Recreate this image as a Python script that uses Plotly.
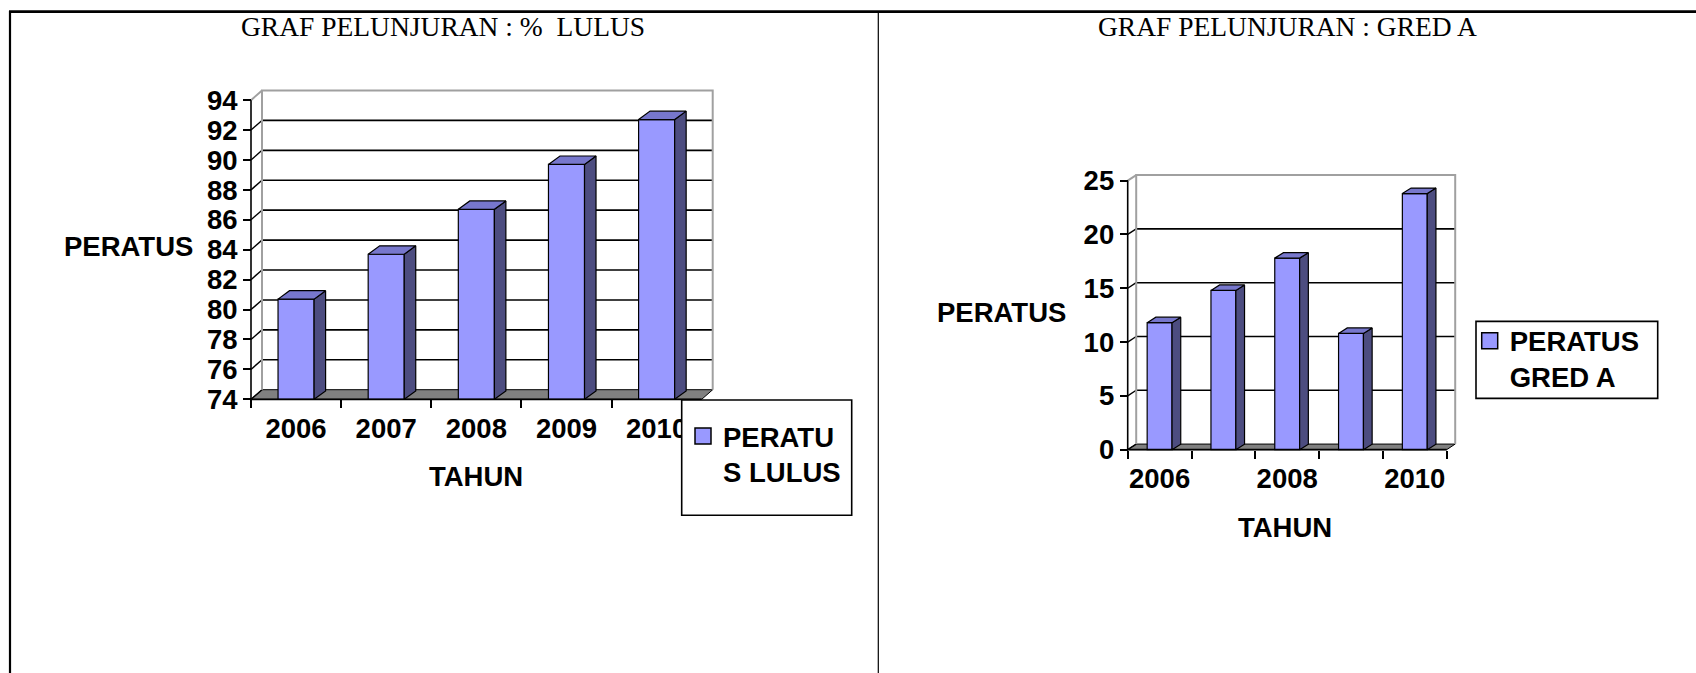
import plotly.graph_objects as go

W, H = 1696, 673      # design coordinates (= reference picture)
H_FIG = 685           # figure height; the photographed page is ~685px tall and scaled to 673

# ---------------- data ----------------
years = [2006, 2007, 2008, 2009, 2010]
lulus_pct = [80.7, 83.7, 86.7, 89.7, 92.7]
gred_a_pct = [11.8, 14.8, 17.8, 10.8, 23.8]

lulus_yticks = [74, 76, 78, 80, 82, 84, 86, 88, 90, 92, 94]
gred_yticks = [0, 5, 10, 15, 20, 25]
lulus_xlabels = ["2006", "2007", "2008", "2009", "2010"]
gred_xlabels = ["2006", "", "2008", "", "2010"]

title1 = "GRAF PELUNJURAN : %\u00a0 LULUS"
title2 = "GRAF PELUNJURAN : GRED A"
series1 = "PERATU<br>S LULUS"
series2 = "PERATUS<br>GRED A"
ytitle = "PERATUS"
xtitle = "TAHUN"

# ---------------- style ----------------
FRONT = "#9999FF"
TOP = "#7777CC"
SIDE = "#4D4D80"
FLOOR = "#808080"
WALL = "#A0A0A0"
SANS = "Liberation Sans, Arial, sans-serif"
SERIF = "Liberation Serif, Times New Roman, serif"
FS = 27.5

fig = go.Figure()
shapes = []
annotations = []
layout = {}


def px_x(px):          # design pixel -> paper fraction
    return px / W


def px_y(py):
    return 1 - py / H


def add_chart(k, values, yticks, xlabels, name, geom, legend_pos, legend_box):
    X0, X1, YB, YT, DX, DY, BDX, BDY, barw = geom
    n = len(years)
    vmin, vmax = yticks[0], yticks[-1]
    sx = (X1 - X0) / n
    sy = (YB - YT) / (vmax - vmin)
    pad = 5
    xs = years
    xlo, xhi = xs[0] - 0.5, xs[-1] + 0.5
    ddx, ddy = DX / sx, DY / sy          # wall depth in data units
    bdx, bdy = BDX / sx, BDY / sy        # bar depth in data units

    xid = "x" if k == 1 else f"x{k}"
    yid = "y" if k == 1 else f"y{k}"
    xkey = "xaxis" if k == 1 else f"xaxis{k}"
    ykey = "yaxis" if k == 1 else f"yaxis{k}"
    legkey = "legend" if k == 1 else f"legend{k}"

    tickfont = dict(family=SANS, size=FS, color="black", weight="bold")

    layout[xkey] = dict(
        domain=[px_x(X0 - pad), px_x(X1 + DX + pad)],
        range=[xlo - pad / sx, xhi + (DX + pad) / sx],
        anchor="free", position=px_y(YB),
        tickmode="array", tickvals=xs, ticktext=xlabels,
        ticks="", showgrid=False, zeroline=False, showline=False,
        tickfont=tickfont, ticklabelstandoff=10,
        minor=dict(tickmode="array", tickvals=[x - 0.5 for x in xs] + [xs[-1] + 0.5],
                   ticks="outside", ticklen=8, tickwidth=1.5, tickcolor="black",
                   showgrid=False),
        fixedrange=True,
    )
    layout[ykey] = dict(
        domain=[px_y(YB + pad), px_y(YT - DY - pad)],
        range=[vmin - pad / sy, vmax + (DY + pad) / sy],
        anchor="free", position=px_x(X0),
        tickmode="array", tickvals=yticks,
        ticks="outside", ticklen=8, tickwidth=1.5, tickcolor="black",
        showgrid=False, zeroline=False, showline=False,
        tickfont=tickfont, fixedrange=True,
    )

    # ---- walls / floor (below traces) ----
    bx0, bx1 = xlo + ddx, xhi + ddx
    by0, by1 = vmin + ddy, vmax + ddy
    shapes.append(dict(type="path", xref=xid, yref=yid, layer="below",
                       path=f"M{xlo},{vmin} L{xhi},{vmin} L{bx1},{by0} L{bx0},{by0} Z",
                       fillcolor=FLOOR, line=dict(color="black", width=1)))
    for v in yticks[1:-1]:
        shapes.append(dict(type="line", xref=xid, yref=yid, layer="below",
                           x0=bx0, x1=bx1, y0=v + ddy, y1=v + ddy,
                           line=dict(color="black", width=1.6)))
    for v in yticks[:-1]:
        shapes.append(dict(type="line", xref=xid, yref=yid, layer="below",
                           x0=xlo, x1=bx0, y0=v, y1=v + ddy,
                           line=dict(color="black", width=1.4)))
    shapes.append(dict(type="line", xref=xid, yref=yid, layer="below",
                       x0=xlo, x1=bx0, y0=vmax, y1=by1,
                       line=dict(color=WALL, width=2)))
    shapes.append(dict(type="path", xref=xid, yref=yid, layer="below",
                       path=f"M{bx0},{by0} L{bx0},{by1} L{bx1},{by1} L{bx1},{by0}",
                       line=dict(color=WALL, width=2)))
    # front axis lines
    shapes.append(dict(type="line", xref=xid, yref=yid, layer="above",
                       x0=xlo, x1=xlo, y0=vmin, y1=vmax,
                       line=dict(color="black", width=1.6)))
    shapes.append(dict(type="line", xref=xid, yref=yid, layer="above",
                       x0=xlo, x1=xhi, y0=vmin, y1=vmin,
                       line=dict(color="black", width=1.6)))

    # ---- bars ----
    fig.add_trace(go.Bar(
        x=xs, y=[v - vmin for v in values], base=vmin, width=barw,
        marker=dict(color=FRONT, line=dict(color="black", width=1.2)),
        name=name, xaxis=xid, yaxis=yid, showlegend=False,
        hoverinfo="skip",
    ))
    topx, topy, sidex, sidey = [], [], [], []
    for x, v in zip(xs, values):
        xl, xr = x - barw / 2, x + barw / 2
        topx += [xl, xr, xr + bdx, xl + bdx, xl, None]
        topy += [v, v, v + bdy, v + bdy, v, None]
        sidex += [xr, xr, xr + bdx, xr + bdx, xr, None]
        sidey += [vmin, v, v + bdy, vmin + bdy, vmin, None]
    for px_, py_, col in ((sidex, sidey, SIDE), (topx, topy, TOP)):
        fig.add_trace(go.Scatter(
            x=px_, y=py_, mode="lines", fill="toself", fillcolor=col,
            line=dict(color="black", width=1.2), xaxis=xid, yaxis=yid,
            showlegend=False, hoverinfo="skip",
        ))
    # legend entry for the series (square swatch)
    fig.add_trace(go.Scatter(
        x=[None], y=[None], mode="markers", name=name, xaxis=xid, yaxis=yid,
        marker=dict(symbol="square", size=16, color=FRONT,
                    line=dict(color="black", width=1.5)),
        legend=legkey, hoverinfo="skip",
    ))

    # legend frame
    bx_l, by_t, bx_r, by_b = legend_box
    shapes.append(dict(type="rect", xref="paper", yref="paper", layer="above",
                       x0=px_x(bx_l), x1=px_x(bx_r), y0=px_y(by_b), y1=px_y(by_t),
                       fillcolor="white", line=dict(color="black", width=1.6)))
    layout[legkey] = dict(
        x=px_x(legend_pos[0]), y=px_y(legend_pos[1]), xanchor="left", yanchor="top",
        bgcolor="rgba(0,0,0,0)", borderwidth=0, valign="top",
        font=dict(family=SANS, size=FS, color="black", weight="bold"),
    )


add_chart(1, lulus_pct, lulus_yticks, lulus_xlabels, series1,
          (251, 701.7, 396.7, 95.7, 11, 9.7, 11.5, 8.5, 0.4),
          (683, 409), (681.7, 397.3, 851.7, 513.3))
add_chart(2, gred_a_pct, gred_yticks, gred_xlabels, series2,
          (1127.7, 1446.7, 447.3, 176.7, 8.5, 5.6, 8.7, 5.5, 0.39),
          (1469.7, 313.2), (1476, 318.3, 1657.7, 395.7))


def txt(text, x, y, font):
    annotations.append(dict(text=text, x=px_x(x), y=px_y(y), xref="paper", yref="paper",
                            showarrow=False, xanchor="center", yanchor="middle", font=font))


serif_font = dict(family=SERIF, size=FS, color="black")
bold_font = dict(family=SANS, size=FS, color="black", weight="bold")
txt(title1, 443, 21.5, serif_font)
txt(title2, 1287, 21.5, serif_font)
txt(ytitle, 128, 243, bold_font)
txt(xtitle, 476, 474.5, bold_font)
txt(ytitle, 1001.6, 309, bold_font)
txt(xtitle, 1285, 526, bold_font)

# page / table borders
shapes.append(dict(type="line", xref="paper", yref="paper", x0=px_x(9), x1=1,
                   y0=px_y(6.7), y1=px_y(6.7), line=dict(color="black", width=2.6)))
shapes.append(dict(type="line", xref="paper", yref="paper", x0=px_x(10), x1=px_x(10),
                   y0=px_y(6), y1=0, line=dict(color="black", width=2.2)))
shapes.append(dict(type="line", xref="paper", yref="paper", x0=px_x(878.3), x1=px_x(878.3),
                   y0=px_y(7), y1=0, line=dict(color="black", width=1.2)))

fig.update_layout(
    width=W, height=H_FIG, margin=dict(l=0, r=0, t=0, b=0),
    paper_bgcolor="white", plot_bgcolor="rgba(0,0,0,0)",
    showlegend=True, hovermode=False, barmode="overlay",
    shapes=shapes, annotations=annotations, **layout,
)

# pin the plot to the window's top-left corner (the page has a default body margin)
post = ("var gd=document.getElementById('{plot_id}');"
        "gd.style.position='fixed';gd.style.left='0px';gd.style.top='0px';"
        "document.body.style.margin='0px';"
        "document.documentElement.style.overflow='hidden';")

fig.write_html("out.html", config={"displayModeBar": False}, post_script=post)
